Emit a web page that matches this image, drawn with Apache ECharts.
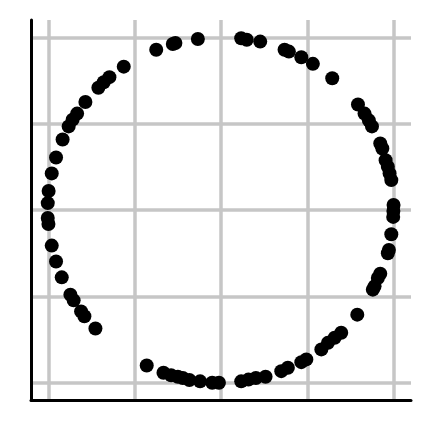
<!DOCTYPE html>
<html>
<head>
<meta charset="utf-8">
<script src="https://cdn.jsdelivr.net/npm/echarts@6/dist/echarts.min.js"></script>
<style>html,body{margin:0;padding:0;background:#fff;}#chart{width:432px;height:432px;}</style>
</head>
<body>
<div id="chart"></div>
<script>
// Point coordinates (data units)
const xValues = [
  -0.134, -0.264, -0.279, -0.375, -0.563, -0.646, -0.679, -0.710, -0.785, -0.833,
  -0.859, -0.882, -0.917, -0.955, -0.980, -0.998, -1.003, -1.003, -0.999, -0.980,
  -0.955, -0.922, -0.872, -0.853, -0.810, -0.791, -0.727,
  -0.430, -0.333, -0.289, -0.250, -0.221, -0.183, -0.121, -0.051, -0.012, 0.117,
  0.159, 0.202, 0.258, 0.349, 0.387, 0.465, 0.494, 0.581, 0.619, 0.658, 0.696, 0.789,
  0.879, 0.889, 0.908, 0.922, 0.966, 0.972, 0.986, 0.997, 0.998, 0.999, 0.986,
  0.976, 0.966, 0.953, 0.934, 0.922, 0.874, 0.856, 0.831, 0.793,
  0.644, 0.532, 0.465, 0.393, 0.368, 0.227, 0.149, 0.117
];
const yValues = [
  0.990, 0.967, 0.961, 0.928, 0.830, 0.769, 0.740, 0.708, 0.625, 0.558,
  0.523, 0.484, 0.408, 0.304, 0.212, 0.110, 0.040, -0.046, -0.081, -0.206,
  -0.298, -0.390, -0.490, -0.523, -0.587, -0.615, -0.686,
  -0.900, -0.942, -0.957, -0.965, -0.973, -0.984, -0.992, -1.000, -1.000, -0.992,
  -0.982, -0.973, -0.965, -0.933, -0.913, -0.881, -0.865, -0.807, -0.769, -0.740, -0.711, -0.606,
  -0.461, -0.442, -0.394, -0.369, -0.250, -0.231, -0.140, -0.040, -0.006, 0.029, 0.173,
  0.212, 0.250, 0.288, 0.356, 0.385, 0.484, 0.519, 0.558, 0.611,
  0.763, 0.846, 0.884, 0.917, 0.928, 0.975, 0.986, 0.994
];
const axisMin = -1.1;
const axisMax = 1.1;

const points = xValues.map((x, i) => [x, yValues[i]]);

const chart = echarts.init(document.getElementById('chart'), null, {renderer: 'canvas'});
const gridColor = '#c6c6c6';
function makeAxis() {
  return {
    type: 'value',
    min: axisMin,
    max: axisMax,
    splitNumber: 4,
    axisLine: {show: true, onZero: false, lineStyle: {color: '#000', width: 3}},
    axisTick: {show: false},
    axisLabel: {show: false},
    splitLine: {show: true, showMinLine: false, showMaxLine: false, lineStyle: {color: gridColor, width: 3.5}}
  };
}
chart.setOption({
  animation: false,
  backgroundColor: '#fff',
  grid: {left: 31, right: 21, top: 20, bottom: 32, containLabel: false},
  xAxis: makeAxis(),
  yAxis: makeAxis(),
  series: [{
    type: 'scatter',
    data: points,
    symbol: 'circle',
    symbolSize: 14,
    itemStyle: {color: '#000', opacity: 1}
  }]
});
</script>
</body>
</html>
